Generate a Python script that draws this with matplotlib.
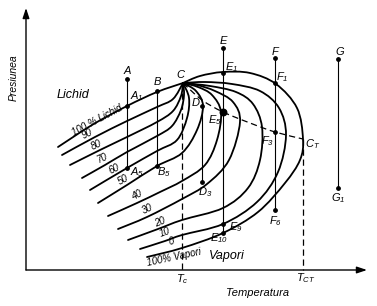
import numpy as np
import matplotlib
matplotlib.use("Agg")
import matplotlib.pyplot as plt
from matplotlib.path import Path
from matplotlib.patches import PathPatch

plt.rcParams['font.family'] = ['Liberation Sans', 'DejaVu Sans']
plt.rcParams['font.style'] = 'italic'
plt.rcParams['mathtext.fontset'] = 'custom'
plt.rcParams['mathtext.rm'] = 'Liberation Sans:italic'
plt.rcParams['mathtext.it'] = 'Liberation Sans:italic'

# quality lines (% lichid) (pixel units, y down)
q100 = [(58, 147), (92, 125), (127, 106), (157, 92), (183, 83)]
q90 = [(62, 155), (95, 137), (127, 121), (157, 107), (173, 99), (183, 83)]
q80 = [(70, 165), (100, 150), (127, 137), (157, 122), (173, 111), (181, 96), (183, 83)]
q70 = [(82, 178), (105, 165), (127, 152), (157, 136), (172, 126), (181, 110), (184, 95), (183, 83)]
q60 = [(90, 190), (127, 168), (157, 151), (177, 140), (187, 118), (189, 98), (183, 83)]
q50 = [(98, 203), (127, 185), (157, 166), (182, 153), (197, 130), (203, 106), (196, 91), (183, 83)]
q40 = [(108, 216), (137, 203), (160, 192), (182, 181), (205, 165), (217, 140),
       (221, 112), (212, 95), (198, 87), (183, 83)]
q30 = [(118, 229), (147, 217), (182, 199), (207, 184), (229, 160), (240, 122),
       (233, 102), (215, 91), (197, 85), (183, 83)]
q20 = [(128, 240), (158, 229), (182, 220), (223, 208), (248, 188), (260, 160),
       (262, 127), (253, 104), (236, 92), (210, 86), (183, 83)]
q10 = [(140, 249), (165, 241), (182, 235), (223, 224), (257, 202), (278, 172),
       (286, 135), (279, 108), (260, 91), (232, 84), (205, 82), (183, 83)]
q0 = [(147, 257), (182, 248), (223, 233), (258, 212), (285, 183), (300, 160),
      (303, 139), (297, 108), (276, 84), (250, 73), (223, 72), (200, 76), (183, 83)]
curves = [q100, q90, q80, q70, q60, q50, q40, q30, q20, q10, q0]

# dashed line C -> C_T
dash_pts = [(183, 83), (202, 100), (223, 112), (250, 123), (275, 132), (303, 139)]

# quality labels
qual_text = ['100 % Lichid', '90', '80', '70', '60', '50', '40', '30', '20', '10', '0', '100% Vapori']
qual_x = [97, 87, 96, 103, 114, 123, 137, 147, 160, 165, 171, 174]
qual_y = [120, 134, 145, 158, 169, 180, 195, 209, 222, 232, 241, 257]
qual_rot = [28, 26, 25, 25, 25, 28, 27, 25, 22, 20, 15, 12]

# vertical paths (isoterme)
vert_x = [127, 157, 202, 223, 275, 338]
vert_top = [79, 91, 106, 48, 58, 59]
vert_bot = [168, 166, 182, 233, 210, 188]

# points on the paths
pt_x = [127, 127, 127, 157, 157, 202, 202, 223, 223, 223, 223, 275, 275, 275, 275, 338, 338]
pt_y = [79, 106, 168, 91, 166, 106, 182, 48, 73, 224, 233, 58, 83, 132, 210, 59, 188]

# point names
lab_text = ['A', '$A_1$', '$A_5$', 'B', '$B_5$', 'C', 'D', '$D_3$', 'E', '$E_1$', '$E_5$',
            '$E_9$', '$E_{10}$', 'F', '$F_1$', '$F_3$', '$F_6$', 'G', '$G_1$', '$C_T$']
lab_x = [127, 137, 137, 157, 164, 180, 196, 205, 223, 232, 215, 236, 219, 275, 282, 268, 276, 340, 338, 313]
lab_y = [71, 96, 172, 82, 172, 75, 103, 192, 41, 67, 120, 227, 238, 52, 77, 141, 221, 52, 198, 144]

Tc_x, Tct_x = 182, 303


def smooth_path(pts):
    p = np.array(pts, dtype=float)
    ext = np.vstack([p[0], p, p[-1]])
    verts = [p[0]]
    codes = [Path.MOVETO]
    for i in range(1, len(ext) - 2):
        c1 = ext[i] + (ext[i + 1] - ext[i - 1]) / 6.0
        c2 = ext[i + 1] - (ext[i + 2] - ext[i]) / 6.0
        verts += [c1, c2, ext[i + 1]]
        codes += [Path.CURVE4] * 3
    return Path(verts, codes)


fig = plt.figure(figsize=(3.77, 3.06), dpi=100)
ax = fig.add_axes([0, 0, 1, 1])
ax.set_xlim(0, 377)
ax.set_ylim(306, 0)
ax.axis('off')

# axes with arrows
ax.annotate('', xy=(26, 8), xytext=(26, 270),
            arrowprops=dict(arrowstyle='-|>,head_length=0.6,head_width=0.2', lw=1.0, color='k',
                            mutation_scale=10, shrinkA=0, shrinkB=0))
ax.annotate('', xy=(367, 270), xytext=(26, 270),
            arrowprops=dict(arrowstyle='-|>,head_length=0.6,head_width=0.2', lw=1.0, color='k',
                            mutation_scale=10, shrinkA=0, shrinkB=0))

for c in curves:
    ax.add_patch(PathPatch(smooth_path(c), fill=False, lw=1.3, ec='k', capstyle='round'))

ax.add_patch(PathPatch(smooth_path(dash_pts), fill=False, lw=0.9, ec='k', ls=(0, (5, 3))))
ax.plot([Tc_x, Tc_x], [83, 270], color='k', lw=0.9, ls=(0, (5, 3)))
ax.plot([Tct_x, Tct_x], [139, 270], color='k', lw=0.9, ls=(0, (5, 3)))

for x, t, b in zip(vert_x, vert_top, vert_bot):
    ax.plot([x, x], [t, b], color='k', lw=0.8)
ax.scatter(pt_x, pt_y, s=6, color='k', zorder=5)
ax.scatter([223], [112], s=22, color='k', zorder=5)

for t, x, y, r in zip(qual_text, qual_x, qual_y, qual_rot):
    ax.text(x, y, t, fontsize=7, rotation=r, rotation_mode='anchor', ha='center', va='center')

for t, x, y in zip(lab_text, lab_x, lab_y):
    ax.text(x, y, t, fontsize=8, ha='center', va='center')

ax.text(73, 95, 'Lichid', fontsize=9, ha='center', va='center')
ax.text(227, 256, 'Vapori', fontsize=9, ha='center', va='center')
ax.text(14, 78, 'Presiunea', fontsize=7.5, rotation=90, ha='center', va='center')
ax.text(258, 293, 'Temperatura', fontsize=8, ha='center', va='center')
ax.text(182, 279, '$T_c$', fontsize=8, ha='center', va='center')
ax.text(306, 278, '$T_{CT}$', fontsize=8, ha='center', va='center')

fig.savefig('out.png', dpi=100)
